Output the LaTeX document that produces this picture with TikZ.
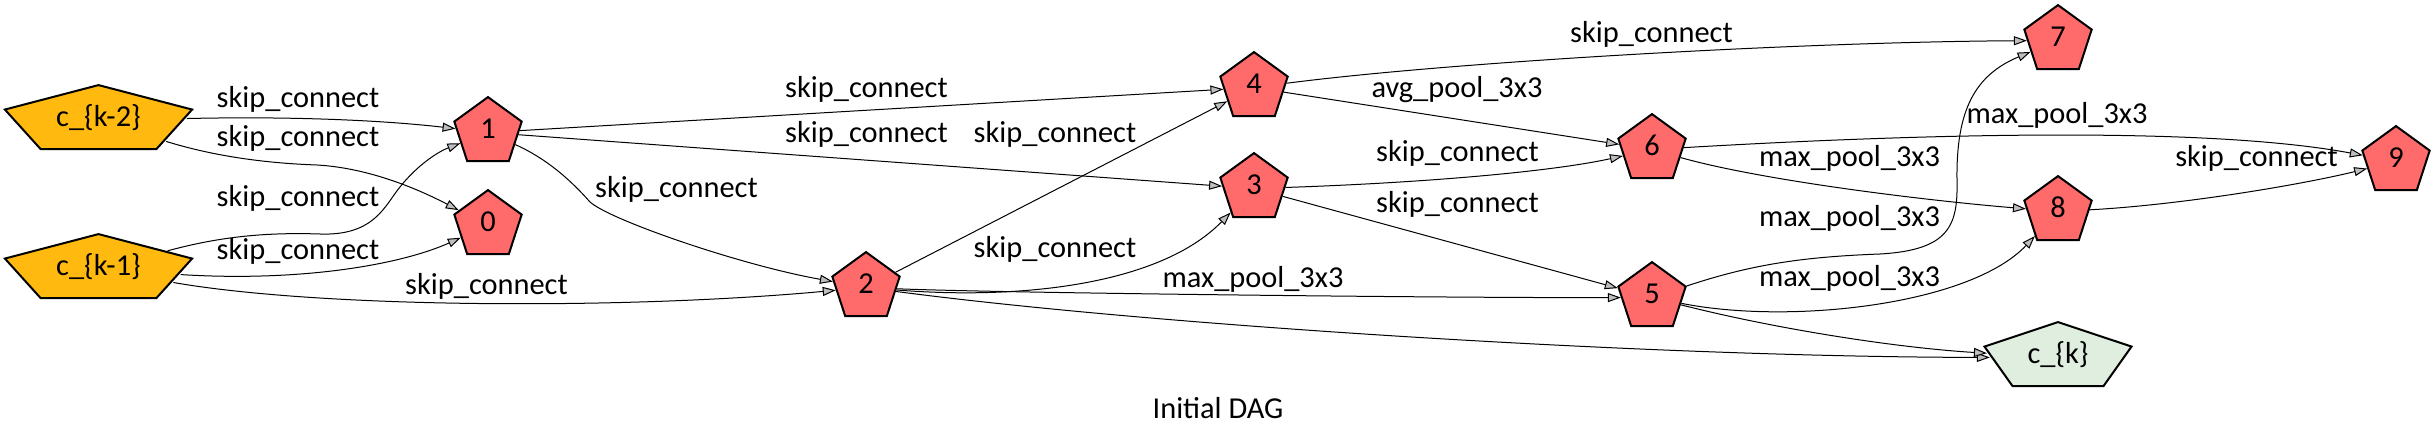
\documentclass[tikz,border=0pt]{standalone}
\usepackage{fontspec}
\usepackage{graphicx}
\setmainfont{Carlito}
\usetikzlibrary{shapes.geometric,arrows.meta}
\definecolor{nodered}{HTML}{FF6A6A}
\definecolor{nodegold}{HTML}{FFB90F}
\definecolor{nodegreen}{HTML}{E0EEE0}
\definecolor{tipgray}{HTML}{BEBEBE}
\newcommand\dagfont{\fontsize{30.4pt}{36pt}\selectfont}
\begin{document}
\begin{tikzpicture}[x=1pt,y=-1pt,
  pent/.style={regular polygon, regular polygon sides=5, minimum size=70.8pt,
    inner sep=0pt, draw=black, line width=2pt, font=\dagfont,
    text height=19.2pt, text depth=6.8pt},
  opnode/.style={pent, fill=nodered},
  innode/.style={pent, fill=nodegold, transform shape},
  outnode/.style={pent, fill=nodegreen, transform shape},
  edge/.style={line width=1pt, -{Triangle[length=13pt,width=9pt,fill=tipgray]}},
  lbl/.style={anchor=base, inner sep=0pt, font=\dagfont}]
\useasboundingbox (0,0) rectangle (2434,438);

% input / output nodes (stretched pentagons)
\begin{scope}[shift={(98.5,120.5)}]
  \node[innode, xscale=2.78] (ck2) {\scalebox{0.3597}[1]{c\_\{k-2\}}};
\end{scope}
\begin{scope}[shift={(98.5,269.5)}]
  \node[innode, xscale=2.78] (ck1) {\scalebox{0.3597}[1]{c\_\{k-1\}}};
\end{scope}
\begin{scope}[shift={(2058,357.5)}]
  \node[outnode, xscale=2.184] (ck) {\scalebox{0.4579}[1]{c\_\{k\}}};
\end{scope}

% operation nodes
\node[opnode] (n1) at (488,132.5) {1};
\node[opnode] (n0) at (488,225.5) {0};
\node[opnode] (n2) at (866,287.5) {2};
\node[opnode] (n4) at (1254,87.5) {4};
\node[opnode] (n3) at (1254,188.5) {3};
\node[opnode] (n6) at (1652,149.5) {6};
\node[opnode] (n5) at (1652,297.5) {5};
\node[opnode] (n7) at (2058,40.5) {7};
\node[opnode] (n8) at (2058,211.5) {8};
\node[opnode] (n9) at (2396,161.5) {9};

% edges
\draw[edge] (ck2) .. controls (300,116) and (390,121) .. (n1);
\draw[edge] (ck2) .. controls (210,155) and (260,163) .. (317,165) .. controls (370,168) and (420,190) .. (n0);
\draw[edge] (ck1) .. controls (215,238) and (260,232) .. (320,234) .. controls (375,236) and (385,205) .. (400,187) .. controls (415,168) and (435,153) .. (n1);
\draw[edge] (ck1) .. controls (300,282) and (400,265) .. (n0);
\draw[edge] (ck1) .. controls (320,308) and (620,310) .. (n2);
\draw[edge] (n1) -- (n4);
\draw[edge] (n1) -- (n3);
\draw[edge] (n1) .. controls (550,160) and (575,185) .. (590,202) .. controls (610,220) and (740,265) .. (n2);
\draw[edge] (n2) -- (n4);
\draw[edge] (n2) .. controls (1020,300) and (1160,285) .. (n3);
\draw[edge] (n2) .. controls (1000,293) and (1450,298) .. (n5);
\draw[edge] (n2) .. controls (1150,325) and (1650,357) .. (ck);
\draw[edge] (n4) .. controls (1450,62) and (1800,42) .. (n7);
\draw[edge] (n4) -- (n6);
\draw[edge] (n3) .. controls (1420,183) and (1550,172) .. (n6);
\draw[edge] (n3) -- (n5);
\draw[edge] (n6) .. controls (1900,135) and (2200,125) .. (n9);
\draw[edge] (n6) .. controls (1760,180) and (1920,200) .. (n8);
\draw[edge] (n5) .. controls (1750,265) and (1800,257) .. (1880,254) .. controls (1950,250) and (1958,225) .. (1957,180) .. controls (1956,110) and (1975,75) .. (n7);
\draw[edge] (n5) .. controls (1790,325) and (1970,305) .. (n8);
\draw[edge] (n5) .. controls (1780,330) and (1900,348) .. (ck);
\draw[edge] (n8) .. controls (2180,205) and (2300,185) .. (n9);

% edge labels
\node[lbl] (l1) at (298,108) {skip\_connect};
\node[lbl] (l2) at (298,147) {skip\_connect};
\node[lbl] (l3) at (298,207) {skip\_connect};
\node[lbl] (l4) at (298,260) {skip\_connect};
\node[lbl] (l5) at (486.5,295) {skip\_connect};
\node[lbl] (l6) at (866.5,98) {skip\_connect};
\node[lbl] (l7) at (866.5,143) {skip\_connect};
\node[lbl] (l8) at (676.5,198) {skip\_connect};
\node[lbl] (l9) at (1055,143) {skip\_connect};
\node[lbl] (l10) at (1055,258) {skip\_connect};
\node[lbl] (l11) at (1253,288) {max\_pool\_3x3};
\node[lbl] (l13) at (1651.5,43) {skip\_connect};
\node[lbl] (l14) at (1457,98) {avg\_pool\_3x3};
\node[lbl] (l15) at (1457.5,162) {skip\_connect};
\node[lbl] (l16) at (1457.5,213) {skip\_connect};
\node[lbl] (l17) at (2057,124) {max\_pool\_3x3};
\node[lbl] (l18) at (1849.5,167) {max\_pool\_3x3};
\node[lbl] (l19) at (1849.5,227) {max\_pool\_3x3};
\node[lbl] (l20) at (1849.5,287) {max\_pool\_3x3};
\node[lbl] (l22) at (2256.5,167) {skip\_connect};

% caption
\node[lbl] (title) at (1218,418) {Initial DAG};
\end{tikzpicture}
\end{document}
